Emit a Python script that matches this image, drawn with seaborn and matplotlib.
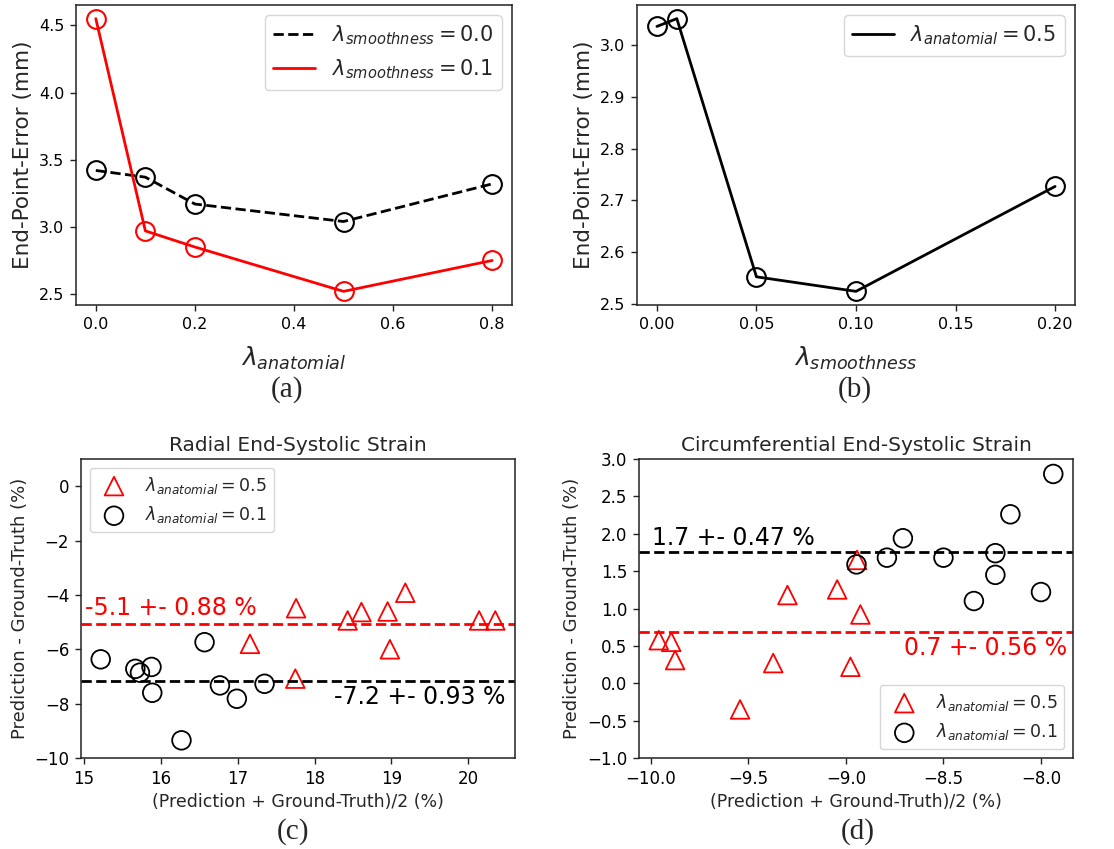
import numpy as np
import pandas as pd
import matplotlib
matplotlib.use("Agg")
import matplotlib.pyplot as plt
import seaborn as sns

# ---------------- data ----------------
# (a)
lam_anat = [0.0, 0.1, 0.2, 0.5, 0.8]
epe_smooth00 = [3.42, 3.37, 3.17, 3.04, 3.32]
epe_smooth01 = [4.55, 2.97, 2.85, 2.52, 2.75]
# (b)
lam_smooth = [0.0, 0.01, 0.05, 0.10, 0.20]
epe_anat05 = [3.035, 3.05, 2.553, 2.525, 2.727]
# (c) radial strain Bland-Altman
rad_mean_05 = [18.43, 18.61, 18.95, 19.18, 20.14, 20.35, 17.76, 17.16, 18.98, 17.75]
rad_diff_05 = [-4.94, -4.63, -4.61, -3.92, -4.94, -4.94, -4.49, -5.80, -6.00, -7.08]
rad_mean_01 = [15.22, 15.67, 15.73, 15.88, 15.89, 16.27, 16.57, 16.77, 16.99, 17.35]
rad_diff_01 = [-6.37, -6.72, -6.86, -6.65, -7.60, -9.35, -5.74, -7.33, -7.82, -7.27]
rad_bias_05, rad_bias_01 = -5.08, -7.17
rad_text_05, rad_text_01 = "-5.1 +- 0.88 %", "-7.2 +- 0.93 %"
# (d) circumferential strain Bland-Altman
circ_mean_05 = [-9.96, -9.896, -9.876, -9.543, -9.373, -9.30, -9.045, -8.977, -8.943, -8.926]
circ_diff_05 = [0.576, 0.554, 0.31, -0.35, 0.27, 1.18, 1.255, 0.22, 1.65, 0.92]
circ_mean_01 = [-8.946, -8.79, -8.708, -8.50, -8.344, -8.234, -8.234, -8.157, -8.0, -7.937]
circ_diff_01 = [1.59, 1.68, 1.94, 1.68, 1.10, 1.74, 1.45, 2.26, 1.22, 2.80]
circ_bias_05, circ_bias_01 = 0.68, 1.75
circ_text_05, circ_text_01 = "0.7 +- 0.56 %", "1.7 +- 0.47 %"

panel_labels = ["(a)", "(b)", "(c)", "(d)"]

# ---------------- figure ----------------
sns.set_style("ticks")
plt.rcParams["font.family"] = ["DejaVu Sans"]
plt.rcParams["mathtext.fontset"] = "dejavusans"

W, H = 1114, 849
fig = plt.figure(figsize=(W / 100, H / 100), dpi=100)

def px_axes(l, t, r, b):
    return fig.add_axes([l / W, 1 - b / H, (r - l) / W, (b - t) / H])

axa = px_axes(76, 5, 512, 305)
axb = px_axes(637, 5, 1075, 305)
axc = px_axes(81, 459, 515, 758)
axd = px_axes(639, 459, 1073, 758)

for ax in (axa, axb, axc, axd):
    for s in ax.spines.values():
        s.set_visible(True)
        s.set_color("#222222")
        s.set_linewidth(1.1)

ms = 13.5
# (a)
sns.lineplot(x=lam_anat, y=epe_smooth00, ax=axa, color="black", linestyle="--",
             linewidth=2, marker="o", markersize=ms, markerfacecolor="none",
             markeredgecolor="black", markeredgewidth=1.5,
             label=r"$\lambda_{smoothness} = 0.0$")
sns.lineplot(x=lam_anat, y=epe_smooth01, ax=axa, color="red", linestyle="-",
             linewidth=2, marker="o", markersize=ms, markerfacecolor="none",
             markeredgecolor="red", markeredgewidth=1.5,
             label=r"$\lambda_{smoothness} = 0.1$")
axa.set_xticks([0.0, 0.2, 0.4, 0.6, 0.8])
axa.set_yticks([2.5, 3.0, 3.5, 4.0, 4.5])
axa.set_xlabel(r"$\lambda_{anatomial}$", fontsize=18, labelpad=9)
axa.set_ylabel("End-Point-Error (mm)", fontsize=15.5)
axa.tick_params(labelsize=11.5)
axa.legend(loc="upper right", fontsize=15, handlelength=2)
for l in axa.get_legend().get_lines():
    l.set_marker("")

# (b)
sns.lineplot(x=lam_smooth, y=epe_anat05, ax=axb, color="black", linestyle="-",
             linewidth=2, marker="o", markersize=ms, markerfacecolor="none",
             markeredgecolor="black", markeredgewidth=1.5,
             label=r"$\lambda_{anatomial} = 0.5$")
axb.set_xticks([0.0, 0.05, 0.10, 0.15, 0.20])
axb.set_xticklabels(["0.00", "0.05", "0.10", "0.15", "0.20"])
axb.set_yticks([2.5, 2.6, 2.7, 2.8, 2.9, 3.0])
axb.set_xlabel(r"$\lambda_{smoothness}$", fontsize=18, labelpad=9)
axb.set_ylabel("End-Point-Error (mm)", fontsize=15.5)
axb.tick_params(labelsize=11.5)
axb.legend(loc="upper right", fontsize=15, handlelength=2)
for l in axb.get_legend().get_lines():
    l.set_marker("")

# (c)
s_mark = 180
sns.scatterplot(x=rad_mean_05, y=rad_diff_05, ax=axc, marker="^", s=s_mark,
                color="red", facecolor="none", edgecolor="red", linewidth=1.3,
                label=r"$\lambda_{anatomial} = 0.5$")
sns.scatterplot(x=rad_mean_01, y=rad_diff_01, ax=axc, marker="o", s=s_mark,
                color="black", facecolor="none", edgecolor="black", linewidth=1.3,
                label=r"$\lambda_{anatomial} = 0.1$")
axc.axhline(rad_bias_05, color="red", linestyle="--", linewidth=2)
axc.axhline(rad_bias_01, color="black", linestyle="--", linewidth=2)
axc.set_ylim(-10, 1)
axc.set_yticks([-10, -8, -6, -4, -2, 0])
axc.set_xticks([15, 16, 17, 18, 19, 20])
axc.text(15.02, -4.73, rad_text_05, color="red", fontsize=17, ha="left", va="baseline")
axc.text(20.48, -8.0, rad_text_01, color="black", fontsize=17, ha="right", va="baseline")
axc.set_title("Radial End-Systolic Strain", fontsize=14.5)
axc.set_xlabel("(Prediction + Ground-Truth)/2 (%)", fontsize=12.5)
axc.set_ylabel("Prediction - Ground-Truth (%)", fontsize=13)
axc.tick_params(labelsize=12)
axc.legend(loc="upper left", fontsize=12.5)

# (d)
sns.scatterplot(x=circ_mean_05, y=circ_diff_05, ax=axd, marker="^", s=s_mark,
                color="red", facecolor="none", edgecolor="red", linewidth=1.3,
                label=r"$\lambda_{anatomial} = 0.5$")
sns.scatterplot(x=circ_mean_01, y=circ_diff_01, ax=axd, marker="o", s=s_mark,
                color="black", facecolor="none", edgecolor="black", linewidth=1.3,
                label=r"$\lambda_{anatomial} = 0.1$")
axd.axhline(circ_bias_01, color="black", linestyle="--", linewidth=2)
axd.axhline(circ_bias_05, color="red", linestyle="--", linewidth=2)
axd.set_ylim(-1, 3)
axd.set_yticks(np.arange(-1.0, 3.01, 0.5))
axd.set_xticks([-10.0, -9.5, -9.0, -8.5, -8.0])
axd.text(-9.995, 1.85, circ_text_01, color="black", fontsize=17, ha="left", va="baseline")
axd.text(-7.864, 0.375, circ_text_05, color="red", fontsize=17, ha="right", va="baseline")
axd.set_title("Circumferential End-Systolic Strain", fontsize=14.5)
axd.set_xlabel("(Prediction + Ground-Truth)/2 (%)", fontsize=12.5)
axd.set_ylabel("Prediction - Ground-Truth (%)", fontsize=13)
axd.tick_params(labelsize=12)
axd.legend(loc="lower right", fontsize=12.5)

for ax in (axa, axb, axc, axd):
    ax.tick_params(direction="out", length=4, width=1, pad=4.5,
                   colors="#222222", labelcolor="black")

# panel labels
for lab, (x, y) in zip(panel_labels, [(287, 390), (855, 390), (293, 832), (858, 832)]):
    fig.text(x / W, 1 - y / H, lab, fontsize=21, family=["Liberation Serif"],
             ha="center", va="center")

fig.savefig("out.png", dpi=100)
